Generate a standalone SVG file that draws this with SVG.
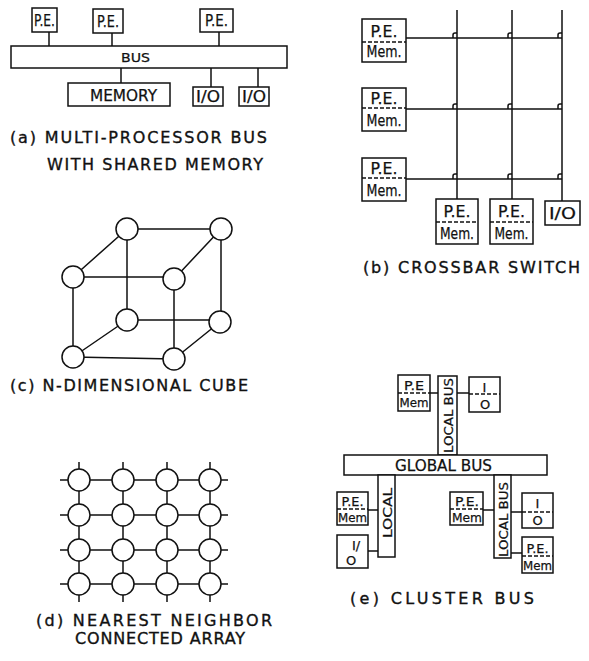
<svg xmlns="http://www.w3.org/2000/svg" width="589" height="661" viewBox="0 0 589 661">
<style>
.b{fill:#fff;stroke:#111;stroke-width:1.5}
.l{fill:none;stroke:#111;stroke-width:1.5}
.d{fill:none;stroke:#111;stroke-width:1.3;stroke-dasharray:4 2}
.c{fill:#fff;stroke:#111;stroke-width:1.5}
text{font-family:"DejaVu Sans","Liberation Sans",Arial,sans-serif;fill:#111;stroke:#111;stroke-width:0.25;text-anchor:middle}
.t{font-size:15px}
.m{font-size:13px}
.cap{font-size:16px;text-anchor:start;stroke-width:0.35}
</style>
<rect width="589" height="661" fill="#fff"/>

<!-- (a) multiprocessor bus -->
<g id="a-connectors">
<path class="l" d="M49 32V46M112 33V46M219 32V46M121 68V83M211 68V87M258 68V87"/>
</g>
<g id="a-pe1"><rect class="b" x="32" y="8" width="25" height="24"/><text class="t" x="44.5" y="26" textLength="21" lengthAdjust="spacingAndGlyphs">P.E.</text></g>
<g id="a-pe2"><rect class="b" x="93" y="9" width="30" height="24"/><text class="t" x="108" y="27" textLength="22" lengthAdjust="spacingAndGlyphs">P.E.</text></g>
<g id="a-pe3"><rect class="b" x="200" y="9" width="33" height="23"/><text class="t" x="216.5" y="26" textLength="23" lengthAdjust="spacingAndGlyphs">P.E.</text></g>
<g id="a-bus"><rect class="b" x="11" y="46" width="276" height="22"/><text class="m" x="135.5" y="62" textLength="29" lengthAdjust="spacingAndGlyphs">BUS</text></g>
<g id="a-memory"><rect class="b" x="68" y="83" width="102" height="23"/><text class="t" x="123.5" y="101" textLength="67" lengthAdjust="spacingAndGlyphs">MEMORY</text></g>
<g id="a-io1"><rect class="b" x="193" y="87" width="30" height="19"/><text class="t" x="208" y="102" textLength="24" lengthAdjust="spacingAndGlyphs">I/O</text></g>
<g id="a-io2"><rect class="b" x="239" y="87" width="30" height="19"/><text class="t" x="254" y="102" textLength="24" lengthAdjust="spacingAndGlyphs">I/O</text></g>
<text class="cap" x="10" y="143" textLength="257" lengthAdjust="spacing">(a) MULTI-PROCESSOR BUS</text>
<text class="cap" x="47" y="170" textLength="216" lengthAdjust="spacing">WITH SHARED MEMORY</text>

<!-- (b) crossbar -->
<g id="b-connectors">
<path class="l" d="M406 38H562M406 109H562M406 179H562M457 10V199M512 10V199M562 10V201"/>
<path class="l" stroke-width="1.2" d="M453 38V35Q453 33 455 33H457M508 38V35Q508 33 510 33H512M558 38V35Q558 33 560 33H562M453 109V106Q453 104 455 104H457M508 109V106Q508 104 510 104H512M558 109V106Q558 104 560 104H562M453 179V176Q453 174 455 174H457M508 179V176Q508 174 510 174H512M558 179V176Q558 174 560 174H562"/>
</g>
<g id="b-pm1"><rect class="b" x="362" y="19" width="44" height="43"/><path class="d" d="M362 42H406"/><text class="t" x="384" y="37" textLength="27" lengthAdjust="spacingAndGlyphs">P.E.</text><text class="t" x="384" y="57" textLength="35" lengthAdjust="spacingAndGlyphs">Mem.</text></g>
<g id="b-pm2"><rect class="b" x="362" y="88" width="44" height="43"/><path class="d" d="M362 108H406"/><text class="t" x="384" y="104" textLength="27" lengthAdjust="spacingAndGlyphs">P.E.</text><text class="t" x="384" y="126" textLength="35" lengthAdjust="spacingAndGlyphs">Mem.</text></g>
<g id="b-pm3"><rect class="b" x="362" y="158" width="44" height="43"/><path class="d" d="M362 178H406"/><text class="t" x="384" y="174" textLength="27" lengthAdjust="spacingAndGlyphs">P.E.</text><text class="t" x="384" y="196" textLength="35" lengthAdjust="spacingAndGlyphs">Mem.</text></g>
<g id="b-pm4"><rect class="b" x="436" y="199" width="42" height="45"/><path class="d" d="M436 222H478"/><text class="t" x="457" y="217" textLength="27" lengthAdjust="spacingAndGlyphs">P.E.</text><text class="t" x="457" y="239" textLength="34" lengthAdjust="spacingAndGlyphs">Mem.</text></g>
<g id="b-pm5"><rect class="b" x="490" y="199" width="43" height="45"/><path class="d" d="M490 222H533"/><text class="t" x="511.5" y="217" textLength="27" lengthAdjust="spacingAndGlyphs">P.E.</text><text class="t" x="511.5" y="239" textLength="34" lengthAdjust="spacingAndGlyphs">Mem.</text></g>
<g id="b-io"><rect class="b" x="545" y="201" width="35" height="24"/><text class="t" x="562.5" y="219" textLength="27" lengthAdjust="spacingAndGlyphs">I/O</text></g>
<text class="cap" x="363" y="273" textLength="217" lengthAdjust="spacing">(b) CROSSBAR SWITCH</text>

<!-- (c) cube -->
<g id="c-connectors">
<path class="l" d="M127 229H221M127 229L73 277M221 229L174 279M73 277H174M127 229V320M221 229V322M73 277V357M174 279V359M127 320H220M127 320L73 357M220 322L174 359M73 357L174 359"/>
</g>
<g id="c-n1"><circle class="c" cx="127" cy="229" r="11"/></g>
<g id="c-n2"><circle class="c" cx="221" cy="229" r="11"/></g>
<g id="c-n3"><circle class="c" cx="73" cy="277" r="11"/></g>
<g id="c-n4"><circle class="c" cx="174" cy="279" r="11"/></g>
<g id="c-n5"><circle class="c" cx="127" cy="320" r="11"/></g>
<g id="c-n6"><circle class="c" cx="220" cy="322" r="11"/></g>
<g id="c-n7"><circle class="c" cx="73" cy="357" r="11"/></g>
<g id="c-n8"><circle class="c" cx="174" cy="359" r="11"/></g>
<text class="cap" x="10" y="391" textLength="238" lengthAdjust="spacing">(c) N-DIMENSIONAL CUBE</text>

<!-- (d) mesh -->
<g id="d-connectors">
<path class="l" d="M60 480H228M60 515H228M60 550H228M60 584H228M79 462V602M123 462V602M167 462V602M210 462V602"/>
</g>
<g id="d-nodes">
<g id="d-r1"><circle class="c" cx="79" cy="480" r="11"/><circle class="c" cx="123" cy="480" r="11"/><circle class="c" cx="167" cy="480" r="11"/><circle class="c" cx="210" cy="480" r="11"/></g>
<g id="d-r2"><circle class="c" cx="79" cy="515" r="11"/><circle class="c" cx="123" cy="515" r="11"/><circle class="c" cx="167" cy="515" r="11"/><circle class="c" cx="210" cy="515" r="11"/></g>
<g id="d-r3"><circle class="c" cx="79" cy="550" r="11"/><circle class="c" cx="123" cy="550" r="11"/><circle class="c" cx="167" cy="550" r="11"/><circle class="c" cx="210" cy="550" r="11"/></g>
<g id="d-r4"><circle class="c" cx="79" cy="584" r="11"/><circle class="c" cx="123" cy="584" r="11"/><circle class="c" cx="167" cy="584" r="11"/><circle class="c" cx="210" cy="584" r="11"/></g>
</g>
<text class="cap" x="36" y="626" textLength="236" lengthAdjust="spacing">(d) NEAREST NEIGHBOR</text>
<text class="cap" x="75" y="644" textLength="170" lengthAdjust="spacing">CONNECTED ARRAY</text>

<!-- (e) cluster bus -->
<g id="e-connectors">
<path class="l" d="M430 393H438M457 393H469M368 510H378M368 551H378M483 510H494M511 512H522M511 553H522"/>
</g>
<g id="e-pm-top"><rect class="b" x="398" y="375" width="32" height="36"/><path class="d" d="M398 393H430"/><text class="m" x="414" y="390" textLength="20" lengthAdjust="spacingAndGlyphs">P.E</text><text class="m" x="414" y="407" textLength="29" lengthAdjust="spacingAndGlyphs">Mem</text></g>
<g id="e-localbus-top"><rect class="b" x="438" y="376" width="19" height="79"/><text class="m" transform="translate(452.5 415.5) rotate(-90)" textLength="75" lengthAdjust="spacingAndGlyphs">LOCAL BUS</text></g>
<g id="e-io-top"><rect class="b" x="469" y="377" width="31" height="35"/><path class="d" d="M469 394H500"/><text class="m" x="484.5" y="392">I</text><text class="m" x="485" y="409">O</text></g>
<g id="e-globalbus"><rect class="b" x="344" y="455" width="203" height="20"/><text class="t" x="443.5" y="471" textLength="97" lengthAdjust="spacingAndGlyphs">GLOBAL BUS</text></g>
<g id="e-local-left"><rect class="b" x="378" y="475" width="17" height="82"/><text class="m" transform="translate(391.5 513) rotate(-90)" textLength="50" lengthAdjust="spacingAndGlyphs">LOCAL</text></g>
<g id="e-pm-left"><rect class="b" x="337" y="492" width="31" height="33"/><path class="d" d="M337 509H368"/><text class="m" x="352.5" y="506" textLength="22" lengthAdjust="spacingAndGlyphs">P.E.</text><text class="m" x="352.5" y="522" textLength="29" lengthAdjust="spacingAndGlyphs">Mem</text></g>
<g id="e-io-left"><rect class="b" x="337" y="535" width="31" height="33"/><text class="m" x="356" y="550">I/</text><text class="m" x="351" y="565">O</text></g>
<g id="e-localbus-right"><rect class="b" x="494" y="475" width="17" height="83"/><text class="m" transform="translate(507.5 519.5) rotate(-90)" textLength="75" lengthAdjust="spacingAndGlyphs">LOCAL BUS</text></g>
<g id="e-pm-mid"><rect class="b" x="450" y="492" width="33" height="33"/><path class="d" d="M450 509H483"/><text class="m" x="467" y="506" textLength="24" lengthAdjust="spacingAndGlyphs">P.E.</text><text class="m" x="467" y="522" textLength="30" lengthAdjust="spacingAndGlyphs">Mem</text></g>
<g id="e-io-right"><rect class="b" x="522" y="493" width="31" height="35"/><path class="d" d="M522 512H553"/><text class="m" x="537.5" y="508">I</text><text class="m" x="537.5" y="525">O</text></g>
<g id="e-pm-low"><rect class="b" x="522" y="537" width="31" height="36"/><path class="d" d="M522 556H553"/><text class="m" x="537.5" y="553" textLength="22" lengthAdjust="spacingAndGlyphs">P.E.</text><text class="m" x="537.5" y="570" textLength="29" lengthAdjust="spacingAndGlyphs">Mem</text></g>
<text class="cap" x="350" y="604" textLength="184" lengthAdjust="spacing">(e) CLUSTER BUS</text>
</svg>
